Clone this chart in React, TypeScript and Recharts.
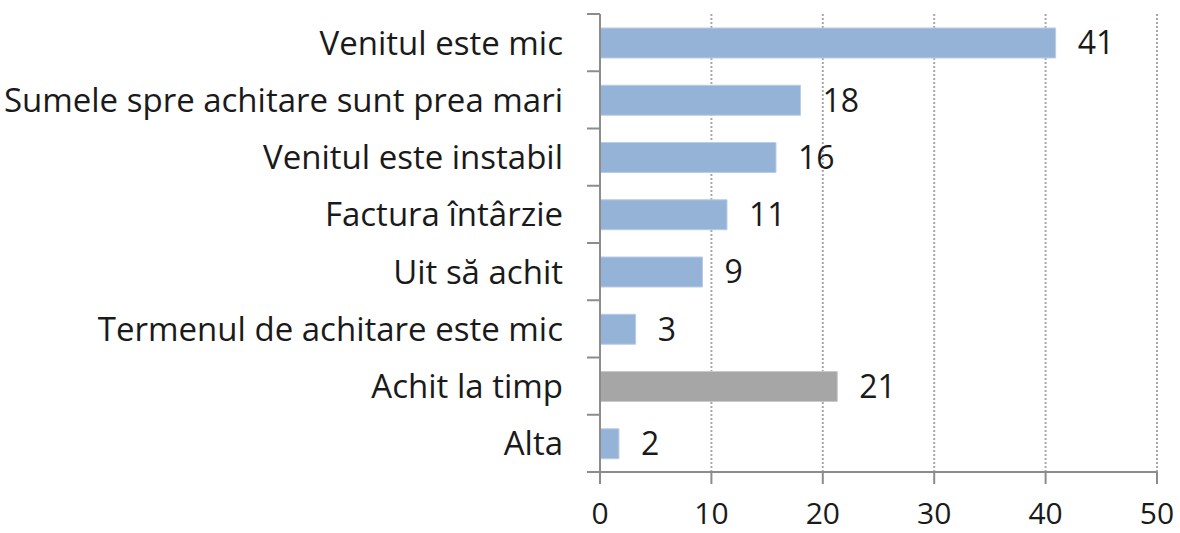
import React from 'react';
import { BarChart, Bar, XAxis, YAxis, CartesianGrid, Cell, LabelList } from 'recharts';

const categories = [
  'Venitul este mic',
  'Sumele spre achitare sunt prea mari',
  'Venitul este instabil',
  'Factura întârzie',
  'Uit să achit',
  'Termenul de achitare este mic',
  'Achit la timp',
  'Alta',
];
const values = [40.9, 18.0, 15.8, 11.4, 9.2, 3.2, 21.3, 1.7];
const xTicks = [0, 10, 20, 30, 40, 50];
const highlighted = 'Achit la timp';

const data = categories.map((name, i) => ({ name, value: values[i] }));

const W = 1180;
const H = 533;
const TOP = 14;
const X_AXIS_H = 61;
const BAND = (H - TOP - X_AXIS_H) / categories.length;
const TICK_SIZE = 13;
const TICK_GAP = 24;
const FONT = '"Open Sans", sans-serif';
const AXIS_COLOR = '#8c8c8c';

const CategoryTick = (props: any) => {
  const { x, y, payload, index } = props;
  const axisX = x + TICK_SIZE + TICK_GAP;
  return (
    <g>
      <line x1={axisX - TICK_SIZE} x2={axisX} y1={y - BAND / 2} y2={y - BAND / 2} stroke={AXIS_COLOR} strokeWidth={2} />
      {index === categories.length - 1 && (
        <line x1={axisX - TICK_SIZE} x2={axisX} y1={y + BAND / 2} y2={y + BAND / 2} stroke={AXIS_COLOR} strokeWidth={2} />
      )}
      <text x={x} y={y} dy="0.36em" textAnchor="end" fontSize={33} fontFamily={FONT} fill="#1a1a1a">
        {payload.value}
      </text>
    </g>
  );
};

export default function App() {
  return (
    <div style={{ position: 'absolute', left: 0, top: 0, background: '#fff' }}>
      <BarChart
        width={W}
        height={H}
        data={data}
        layout="vertical"
        margin={{ top: TOP, right: 23, left: 0, bottom: 0 }}
      >
        <CartesianGrid horizontal={false} stroke="#a8a8a8" strokeWidth={2} strokeDasharray="2 2" />
        <XAxis
          type="number"
          domain={[0, 50]}
          ticks={xTicks}
          height={X_AXIS_H}
          tickSize={12}
          tickMargin={19}
          axisLine={{ stroke: AXIS_COLOR, strokeWidth: 2 }}
          tickLine={{ stroke: AXIS_COLOR, strokeWidth: 2 }}
          tick={{ fontSize: 30, fontFamily: FONT, fill: '#1a1a1a' }}
        />
        <YAxis
          type="category"
          dataKey="name"
          width={600}
          interval={0}
          tickSize={TICK_SIZE}
          tickMargin={TICK_GAP}
          tickLine={false}
          axisLine={{ stroke: AXIS_COLOR, strokeWidth: 2 }}
          tick={<CategoryTick />}
        />
        <Bar dataKey="value" barSize={30} isAnimationActive={false}>
          {data.map((d) => (
            <Cell
              key={d.name}
              fill={d.name === highlighted ? '#a6a6a6' : '#95b3d7'}
              stroke={d.name === highlighted ? '#c9c9c9' : '#b9cde5'}
              strokeWidth={1}
            />
          ))}
          <LabelList
            dataKey="value"
            position="right"
            offset={22}
            formatter={(v: any) => Math.round(Number(v))}
            style={{ fontSize: 32, fontFamily: FONT, fill: '#1a1a1a' }}
          />
        </Bar>
      </BarChart>
    </div>
  );
}
